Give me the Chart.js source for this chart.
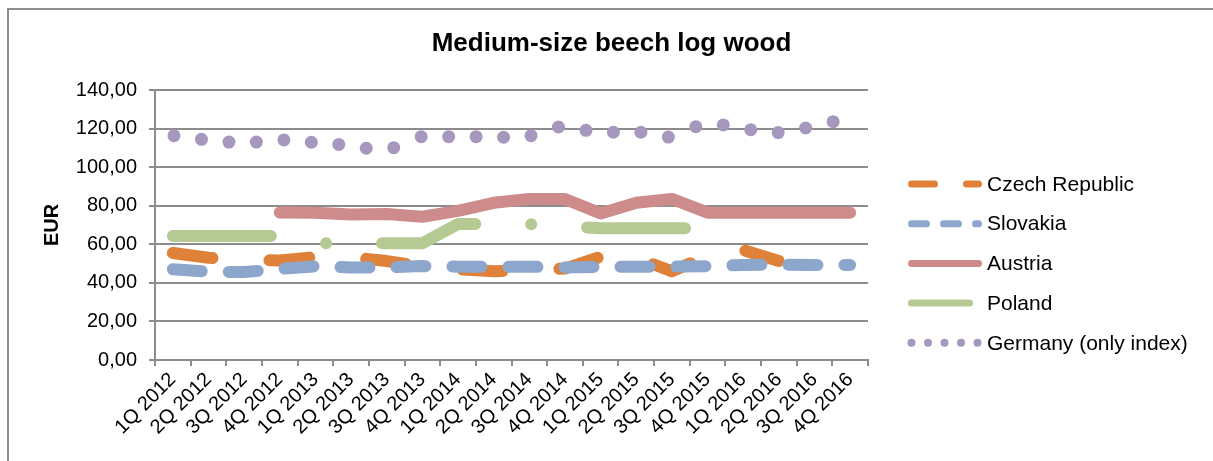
<!DOCTYPE html>
<html lang="en">
<head>
  <meta charset="UTF-8" />
  <title>Medium-size beech log wood</title>
  <script src="https://cdn.jsdelivr.net/npm/chart.js"></script>
  <style>
    html, body { margin: 0; padding: 0; background: #fff; }
    body { width: 1213px; height: 461px; overflow: hidden; position: relative; }
    .frame {
      position: absolute; left: 7px; top: 8px;
      width: 1300px; height: 600px;
      border-left: 2px solid #8e8e8e;
      border-top: 2px solid #8e8e8e;
    }
    #wrap { position: absolute; left: 0; top: 0; width: 1213px; height: 461px; }
  </style>
</head>
<body>
  <div class="frame"></div>
  <div id="wrap"><canvas id="chart" width="1213" height="461"></canvas></div>

  <script>
    // quarters on the category axis
    const quarters = ["1Q 2012", "2Q 2012", "3Q 2012", "4Q 2012",
                      "1Q 2013", "2Q 2013", "3Q 2013", "4Q 2013",
                      "1Q 2014", "2Q 2014", "3Q 2014", "4Q 2014",
                      "1Q 2015", "2Q 2015", "3Q 2015", "4Q 2015",
                      "1Q 2016", "2Q 2016", "3Q 2016", "4Q 2016"];

    const czech    = [55.5, 53, 52, 51.6, 53.4, 53.3, 51.3, 48.5, 47, 46, 46.5, 47.4, 53.5, 53, 46, 54, 57, 51.3, null, null];
    const slovakia = [47, 45.8, 45.6, 47.2, 48.6, 48, 48, 48.7, 48.4, 48.4, 48.4, 48, 48.2, 48.4, 48.4, 48.6, 49.3, 49.4, 49.3, 49.3];
    const austria  = [null, null, null, 76.5, 76.3, 75.5, 75.7, 74.3, 77.3, 81.5, 83.5, 83.5, 76, 81.5, 83.5, 76.4, 76.4, 76.4, 76.4, 76.4];
    const poland   = [64.3, 64.3, 64.3, 64.3, 60.5, 60.5, 60.5, 60.5, 70.5, 70.5, 70.5, 69.3, 68.3, 68.3, 68.3, 68.3, null, null, null, null];
    // germany index has 25 observations, spread over the same width
    const germany  = [116.3, 114.4, 113.0, 113.0, 114.1, 112.9, 111.8, 109.8, 110.1, 115.8, 115.8, 115.8, 115.5,
                      116.3, 120.8, 119.1, 118.1, 118.1, 115.6, 121.0, 121.9, 119.4, 117.9, 120.3, 123.6];

    const yTicks = [0, 20, 40, 60, 80, 100, 120, 140];

    const GRID = '#8c8c8c';
    const FONT = '"Liberation Sans", Arial, sans-serif';
    Chart.defaults.font.family = FONT;
    Chart.defaults.color = '#000';

    function lineSet(label, data, color, dash, legendDash, order) {
      return {
        label, data, order,
        borderColor: color,
        backgroundColor: color,
        borderWidth: 12,
        borderDash: dash,
        borderCapStyle: 'round',
        borderJoinStyle: 'round',
        pointRadius: 0,
        tension: 0,
        fill: false,
        spanGaps: false,
        legendDash
      };
    }

    const datasets = [
      lineSet('Czech Republic', czech, '#e0813a', [40, 57], [23, 32], 5),
      lineSet('Slovakia', slovakia, '#8da6cc', [29, 27], [15, 17], 4),
      lineSet('Austria', austria, '#cd8b8b', [], [], 3),
      lineSet('Poland', poland, '#b4ca92', [98, 56, 0, 56], [58, 40], 2),
      {
        label: 'Germany (only index)',
        data: germany.map((v, i) => ({ x: i, y: v })),
        xAxisID: 'x2',
        showLine: false,
        order: 1,
        pointRadius: 6.5,
        pointBorderWidth: 0,
        pointBackgroundColor: '#a597be',
        borderColor: '#a597be',
        backgroundColor: '#a597be',
        legendDash: [0, 16.5],
        legendWidth: 8
      }
    ];

    // legend drawn at the right, Excel style
    const sideLegend = {
      id: 'sideLegend',
      afterDraw(chart) {
        const ctx = chart.ctx;
        chart.data.datasets.forEach((ds, i) => {
          const y = 184 + i * 39.7;
          ctx.save();
          ctx.strokeStyle = ds.borderColor;
          ctx.lineWidth = ds.legendWidth || 7;
          ctx.lineCap = 'round';
          ctx.setLineDash(ds.legendDash);
          ctx.beginPath();
          ctx.moveTo(911.5, y);
          ctx.lineTo(978.5, y);
          ctx.stroke();
          ctx.setLineDash([]);
          ctx.fillStyle = '#000';
          ctx.font = '21px ' + FONT;
          ctx.textBaseline = 'middle';
          ctx.fillText(ds.label, 987, y + 1);
          ctx.restore();
        });
      }
    };

    new Chart(document.getElementById('chart'), {
      type: 'line',
      data: { labels: quarters, datasets },
      options: {
        responsive: false,
        animation: false,
        events: [],
        layout: { padding: { left: 10, right: 0, top: 0, bottom: 0 } },
        plugins: {
          legend: { display: false },
          tooltip: { enabled: false },
          title: {
            display: true,
            text: 'Medium-size beech log wood',
            color: '#000',
            font: { size: 26, weight: 'bold' },
            padding: { top: 28, bottom: 30.8 }
          }
        },
        scales: {
          x: {
            offset: true,
            grid: { display: true, drawOnChartArea: false, offset: true, tickLength: 6, color: GRID, lineWidth: 2 },
            border: { color: GRID, width: 2 },
            ticks: { color: '#000', font: { size: 20 }, minRotation: 45, maxRotation: 45, autoSkip: false, padding: 2 },
            afterFit(s) { s.height = 101; }
          },
          x2: { type: 'linear', display: false, min: -0.692, max: 25.27 },
          y: {
            min: yTicks[0],
            max: yTicks[yTicks.length - 1],
            afterBuildTicks(s) { s.ticks = yTicks.map(v => ({ value: v })); },
            ticks: { color: '#000', font: { size: 20 }, padding: 12, callback: v => v.toFixed(2).replace('.', ',') },
            grid: { color: GRID, lineWidth: 2, tickLength: 6, tickColor: GRID },
            border: { color: GRID, width: 2 },
            title: { display: true, text: 'EUR', color: '#000', font: { size: 20, weight: 'bold' }, padding: { top: 30, bottom: 0 } },
            afterFit(s) { s.width = 145; }
          },
          // empty right-hand axis keeps room for the legend
          side: {
            position: 'right',
            display: true,
            grid: { display: false },
            border: { display: false },
            ticks: { display: false },
            afterFit(s) { s.width = 345; }
          }
        }
      },
      plugins: [sideLegend]
    });
  </script>
</body>
</html>
